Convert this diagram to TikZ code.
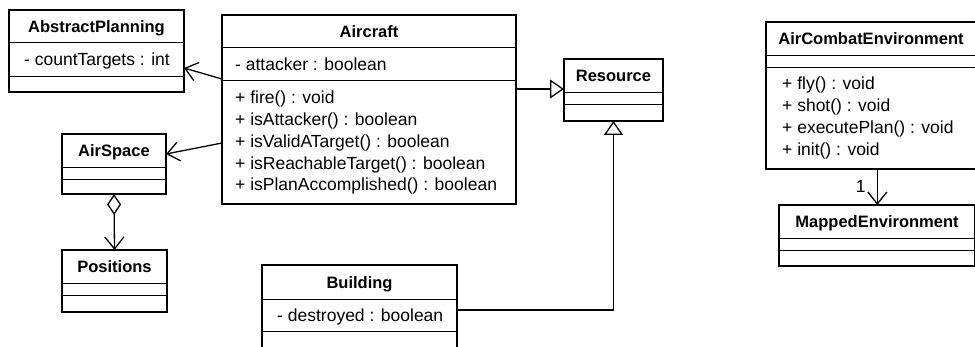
\documentclass[tikz,border=0pt]{standalone}
\usepackage{fontspec}
\setmainfont{Liberation Sans}
\usetikzlibrary{arrows.meta}

% Draws one class box: name, left, top, right, bottom, first rule, second rule
\newcommand\umlbox[7]{%
  \node[box, minimum width={#4pt-#2pt}, minimum height={#5pt-#3pt}] (#1) at (#2,#3) {};
  \draw[rule] (#2,#6) -- (#4,#6);
  \draw[rule] (#2,#7) -- (#4,#7);
}

\begin{document}
\begin{tikzpicture}[x=1pt,y=-1pt,
  box/.style={draw, line width=2.8pt, inner sep=0pt, outer sep=0pt, anchor=north west, fill=white},
  rule/.style={line width=1pt},
  cname/.style={font=\fontsize{16.5}{20}\selectfont\bfseries, inner sep=0pt, anchor=base},
  member/.style={font=\fontsize{17.5}{21.7}\selectfont, inner sep=0pt, anchor=base west},
  conn/.style={line width=1.3pt},
  barb/.tip={Straight Barb[length=12pt,width=19pt,line width=1.3pt]},
  nav/.style={conn, -barb},
  gen/.style={conn, -{Triangle[open,length=14pt,width=19pt,line width=1.3pt,fill=white]}},
  agg/.style={conn, {Diamond[open,length=21pt,width=14pt,line width=1.3pt,fill=white]}-barb},
]
\useasboundingbox (0,0) rectangle (975,347);
\fill[white] (0,0) rectangle (975,347);
\clip (0,0) rectangle (975,347);

% class boxes
\umlbox{abstract}{9}{10}{184}{92}{43}{77}
\umlbox{aircraft}{222}{15}{516}{204}{48}{81}
\umlbox{airspace}{62}{134}{166}{194}{168}{180}
\umlbox{positions}{62}{250}{167}{312}{284}{296}
\umlbox{resource}{564}{59}{663}{121}{93}{105}
\umlbox{building}{262}{265}{457}{362}{300}{332}
\umlbox{aircombat}{766}{22}{978}{169}{56}{68}
\umlbox{mapped}{779}{205}{975.7}{266}{239}{251}

% class names
\node[cname] (abstractN) at (96.5,32.5) {AbstractPlanning};
\node[cname] (aircraftN) at (369,37.5) {Aircraft};
\node[cname] (airspaceN) at (114,157) {AirSpace};
\node[cname] (positionsN) at (114.5,273) {Positions};
\node[cname] (resourceN) at (613.5,82) {Resource};
\node[cname] (buildingN) at (359.5,288.5) {Building};
\node[cname] (aircombatN) at (871,45) {AirCombatEnvironment};
\node[cname] (mappedN) at (877,228) {MappedEnvironment};

% attributes
\node[member] (abstractA) at (24,66) {- countTargets : int};
\node[member] (aircraftA) at (235,71) {- attacker : boolean};
\node[member] (buildingA) at (277,322) {- destroyed : boolean};

% operations
\node[member] (aircraftO1) at (235,104) {+ fire() : void};
\node[member] (aircraftO2) at (235,125.7) {+ isAttacker() : boolean};
\node[member] (aircraftO3) at (235,147.4) {+ isValidATarget() : boolean};
\node[member] (aircraftO4) at (235,169.1) {+ isReachableTarget() : boolean};
\node[member] (aircraftO5) at (235,190.8) {+ isPlanAccomplished() : boolean};
\node[member] (aircombatO1) at (782,90) {+ fly() : void};
\node[member] (aircombatO2) at (782,111.7) {+ shot() : void};
\node[member] (aircombatO3) at (782,133.4) {+ executePlan() : void};
\node[member] (aircombatO4) at (782,155.1) {+ init() : void};

% relations
\draw[nav] ([yshift=-64pt]aircraft.north west) -- ([yshift=-58pt]abstract.north east);
\draw[nav] ([yshift=-128pt]aircraft.north west) -- ([yshift=-20pt]airspace.north east);
\draw[gen] ([yshift=-74pt]aircraft.north east) -- ([yshift=-30pt]resource.north west);
\draw[gen] ([yshift=-45pt]building.north east) -| (resource.south);
\draw[agg] (airspace.south) -- (positions.north);
\draw[nav] (mapped.north |- aircombat.south) -- (mapped.north)
  node[member, pos=0.64, anchor=base east, xshift=-11pt] (mult) {1};
\end{tikzpicture}
\end{document}
